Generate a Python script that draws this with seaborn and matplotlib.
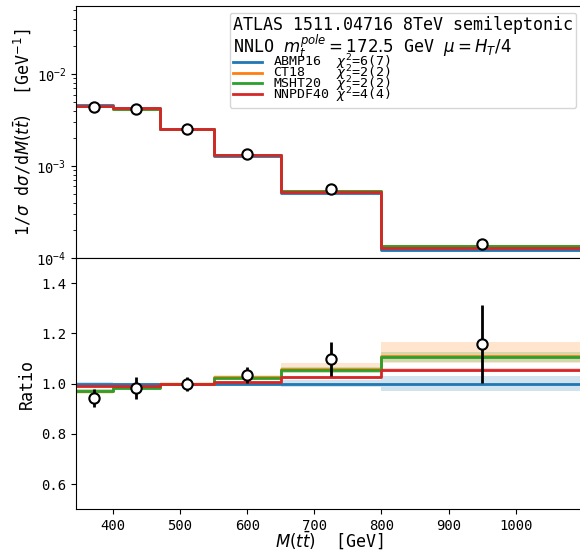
import matplotlib
matplotlib.use("Agg")
import matplotlib.pyplot as plt
from matplotlib.lines import Line2D
import numpy as np
import pandas as pd
import seaborn as sns

# --- binning and measurement -------------------------------------------------
bin_edges = [345, 400, 470, 550, 650, 800, 1100]
data_xsec = [4.34e-3, 4.20e-3, 2.55e-3, 1.34e-3, 5.62e-4, 1.42e-4]
data_err = [1.6e-4, 1.89e-4, 7.1e-5, 4.0e-5, 3.5e-5, 1.9e-5]

# --- NNLO predictions per PDF set ---------------------------------------------
pdf_names = ["ABMP16", "CT18", "MSHT20", "NNPDF40"]
pdf_colors = ["#1f77b4", "#ff7f0e", "#2ca02c", "#d62728"]
chi2_text = ["6(7)", "2(2)", "2(2)", "4(4)"]

abmp16 = [4.60e-3, 4.27e-3, 2.55e-3, 1.295e-3, 5.12e-4, 1.226e-4]
ct18 = [4.462e-3, 4.206e-3, 2.55e-3, 1.330e-3, 5.417e-4, 1.362e-4]
msht20 = [4.467e-3, 4.202e-3, 2.55e-3, 1.326e-3, 5.396e-4, 1.355e-4]
nnpdf40 = [4.549e-3, 4.236e-3, 2.55e-3, 1.305e-3, 5.248e-4, 1.292e-4]

# relative PDF uncertainties (up / down)
abmp16_up = [0.006, 0.004, 0.003, 0.005, 0.013, 0.031]
abmp16_dn = [0.006, 0.004, 0.003, 0.005, 0.013, 0.031]
ct18_up = [0.010, 0.007, 0.005, 0.008, 0.024, 0.048]
ct18_dn = [0.010, 0.007, 0.005, 0.008, 0.015, 0.025]
msht20_up = [0.006, 0.004, 0.003, 0.005, 0.010, 0.020]
msht20_dn = [0.006, 0.004, 0.003, 0.005, 0.010, 0.019]
nnpdf40_up = [0.003, 0.002, 0.002, 0.003, 0.005, 0.007]
nnpdf40_dn = [0.003, 0.002, 0.002, 0.003, 0.005, 0.007]

preds = [abmp16, ct18, msht20, nnpdf40]
unc_up = [abmp16_up, ct18_up, msht20_up, nnpdf40_up]
unc_dn = [abmp16_dn, ct18_dn, msht20_dn, nnpdf40_dn]

# --- style -------------------------------------------------------------------
plt.rcParams["font.family"] = "monospace"
plt.rcParams["font.monospace"] = ["DejaVu Sans Mono"]
plt.rcParams["mathtext.fontset"] = "dejavusans"
plt.rcParams["xtick.labelsize"] = 10
plt.rcParams["ytick.labelsize"] = 10
plt.rcParams["axes.labelsize"] = 12

edges = np.asarray(bin_edges, dtype=float)
centers = 0.5 * (edges[:-1] + edges[1:])
ref = np.asarray(abmp16)

# long tables for seaborn
rows, rrows = [], []
for name, vals in zip(pdf_names, preds):
    v = np.asarray(vals)
    vv = np.append(v, v[-1])
    rr = np.append(v / ref, (v / ref)[-1])
    for x, y, r in zip(edges, vv, rr):
        rows.append({"pdf": name, "x": x, "y": y})
        rrows.append({"pdf": name, "x": x, "y": r})
df_pred = pd.DataFrame(rows)
df_ratio = pd.DataFrame(rrows)
df_data = pd.DataFrame({"x": centers, "y": data_xsec,
                        "r": np.asarray(data_xsec) / ref,
                        "rerr": np.asarray(data_err) / ref})

fig = plt.figure(figsize=(5.8, 5.58), dpi=100)
ax = fig.add_axes([0.131, 0.5376, 0.874, 0.4516])
axr = fig.add_axes([0.131, 0.0873, 0.874, 0.4503], sharex=ax)

palette = dict(zip(pdf_names, pdf_colors))

# --- upper panel: normalised cross section -----------------------------------
sns.lineplot(data=df_pred, x="x", y="y", hue="pdf", hue_order=pdf_names,
             palette=palette, estimator=None, sort=False, drawstyle="steps-post",
             linewidth=2, legend=False, ax=ax)
sns.scatterplot(data=df_data, x="x", y="y", s=55, color="white",
                edgecolor="black", linewidth=1.5, zorder=10, ax=ax, legend=False)
ax.set_yscale("log")
ax.set_ylim(1e-4, 0.055)
ax.set_xlim(345, 1100)
ax.set_ylabel(r"1/$\sigma$ d$\sigma$/d$M(t\bar{t})$  [GeV$^{-1}$]", labelpad=2)
ax.set_xlabel("")
ax.tick_params(axis="x", which="both", bottom=False, labelbottom=False)

handles = [Line2D([], [], color=c, lw=2) for c in pdf_colors]
labels = [f"{n:<8s}$\\chi^2$={t}" for n, t in zip(pdf_names, chi2_text)]
title = ("ATLAS 1511.04716 8TeV semileptonic\n"
         r"NNLO $m_t^{pole}=172.5$ GeV $\mu=H_T/4$")
leg = ax.legend(handles, labels, title=title, loc="upper right",
                alignment="left", fontsize=9.5, title_fontsize=12,
                labelspacing=-0.66, handlelength=2.2, borderpad=0.25)
leg.get_title().set_linespacing(0.95)

# --- lower panel: ratio to ABMP16 --------------------------------------------
for name, vals, up, dn, col in zip(pdf_names, preds, unc_up, unc_dn, pdf_colors):
    r = np.asarray(vals) / ref
    hi = r * (1 + np.asarray(up))
    lo = r * (1 - np.asarray(dn))
    axr.fill_between(edges, np.append(lo, lo[-1]), np.append(hi, hi[-1]),
                     step="post", color=col, alpha=0.2, linewidth=0)

sns.lineplot(data=df_ratio, x="x", y="y", hue="pdf", hue_order=pdf_names,
             palette=palette, estimator=None, sort=False, drawstyle="steps-post",
             linewidth=2, legend=False, ax=axr)
axr.errorbar(df_data["x"], df_data["r"], yerr=df_data["rerr"], fmt="none",
             ecolor="black", elinewidth=2, zorder=9)
sns.scatterplot(data=df_data, x="x", y="r", s=55, color="white",
                edgecolor="black", linewidth=1.5, zorder=10, ax=axr, legend=False)
axr.set_ylim(0.5, 1.5)
axr.set_yticks([0.6, 0.8, 1.0, 1.2, 1.4])
axr.set_xticks([400, 500, 600, 700, 800, 900, 1000])
axr.set_xlim(345, 1100)
axr.set_ylabel("Ratio")
axr.set_xlabel(r"$M(t\bar{t})$  [GeV]", labelpad=-3)

fig.savefig("out.png", dpi=100)
